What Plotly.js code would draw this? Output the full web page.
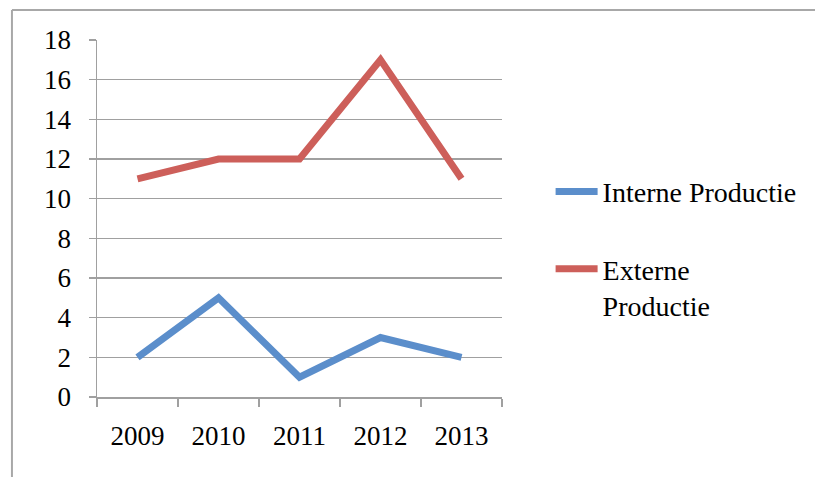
<!DOCTYPE html>
<html>
<head>
<meta charset="utf-8">
<script src="https://cdn.plot.ly/plotly-3.0.1.min.js"></script>
<style>html,body{margin:0;padding:0;background:#fff}#chart{width:815px;height:477px}</style>
</head>
<body>
<div id="chart"></div>
<script>
var years = ['2009', '2010', '2011', '2012', '2013'];
var interneProductie = [2, 5, 1, 3, 2];
var externeProductie = [11, 12, 12, 17, 11];
var yTicks = [0, 2, 4, 6, 8, 10, 12, 14, 16, 18];

var font = {family: '"Liberation Serif", "Times New Roman", serif', size: 27, color: '#000'};
var legendFont = {family: '"Liberation Serif", "Times New Roman", serif', size: 28, color: '#000'};
var axisGray = '#a0a0a0';

var traces = [
  {x: years, y: interneProductie, type: 'scatter', mode: 'lines', name: 'Interne Productie',
   line: {color: '#5b8ecb', width: 7}, legendgroup: 'a'},
  {x: years, y: externeProductie, type: 'scatter', mode: 'lines', name: 'Externe<br>Productie',
   line: {color: '#cd5f5a', width: 7}, legendgroup: 'b'}
];

var layout = {
  width: 815, height: 477,
  margin: {l: 97, r: 313, t: 40, b: 80},
  paper_bgcolor: '#fff', plot_bgcolor: '#fff',
  font: font,
  showlegend: true,
  legend: {x: 1.12, y: 0.645, xanchor: 'left', yanchor: 'top', font: legendFont,
           itemwidth: 42, traceorder: 'grouped', tracegroupgap: 38, valign: 'top',
           bgcolor: 'rgba(0,0,0,0)'},
  xaxis: {type: 'category', range: [-0.5, 4.5], tickson: 'boundaries', ticks: 'outside',
          ticklen: 8, tickwidth: 1.5, tickcolor: axisGray, showgrid: false, zeroline: false,
          showline: true, linecolor: axisGray, linewidth: 1.5, tickfont: font,
          ticklabelstandoff: 14, fixedrange: true},
  yaxis: {range: [0, 18], tickvals: yTicks, ticks: 'outside', ticklen: 7, tickwidth: 1.5,
          tickcolor: axisGray, showgrid: true, gridcolor: axisGray, gridwidth: 1.5,
          zeroline: false, showline: true, linecolor: axisGray, linewidth: 1.5,
          tickfont: font, ticklabelstandoff: 12, fixedrange: true},
  shapes: [
    {type: 'line', xref: 'paper', yref: 'paper', x0: -0.21, x1: -0.21, y0: 1.084, y1: -0.25,
     line: {color: '#a8a8a8', width: 2}},
    {type: 'line', xref: 'paper', yref: 'paper', x0: -0.21, x1: 1.8, y0: 1.084, y1: 1.084,
     line: {color: '#a8a8a8', width: 2}}
  ]
};

Plotly.newPlot('chart', traces, layout, {displayModeBar: false, staticPlot: true});
</script>
</body>
</html>
